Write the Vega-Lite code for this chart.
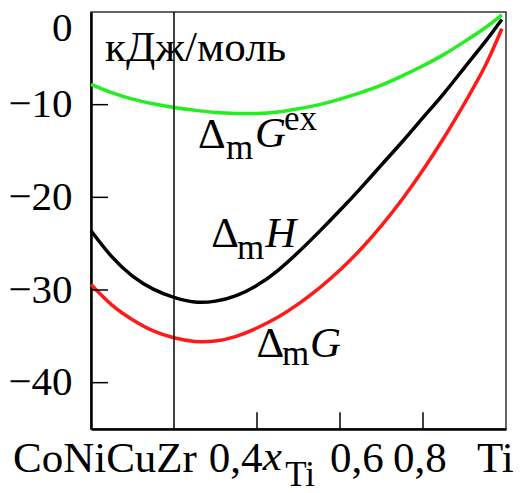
{
  "$schema": "https://vega.github.io/schema/vega-lite/v6.json",
  "width": 415,
  "height": 417,
  "autosize": {"type": "none"},
  "padding": {"left": 91, "top": 12, "right": 16, "bottom": 64},
  "background": "white",
  "config": {
    "view": {"stroke": "#333333", "strokeWidth": 1.5},
    "font": "Liberation Serif"
  },
  "datasets": {
    "curves": [
      {"x": 0, "y": -7.8, "s": "Gex"}, {"x": 0.05, "y": -8.7, "s": "Gex"}, {"x": 0.1, "y": -9.4, "s": "Gex"}, {"x": 0.15, "y": -9.9, "s": "Gex"}, {"x": 0.2, "y": -10.3, "s": "Gex"}, {"x": 0.25, "y": -10.6, "s": "Gex"}, {"x": 0.3, "y": -10.85, "s": "Gex"}, {"x": 0.35, "y": -10.95, "s": "Gex"}, {"x": 0.4, "y": -10.95, "s": "Gex"}, {"x": 0.45, "y": -10.8, "s": "Gex"}, {"x": 0.5, "y": -10.45, "s": "Gex"}, {"x": 0.55, "y": -10.0, "s": "Gex"}, {"x": 0.6, "y": -9.4, "s": "Gex"}, {"x": 0.65, "y": -8.7, "s": "Gex"}, {"x": 0.7, "y": -7.9, "s": "Gex"}, {"x": 0.75, "y": -6.9, "s": "Gex"}, {"x": 0.8, "y": -5.8, "s": "Gex"}, {"x": 0.85, "y": -4.6, "s": "Gex"}, {"x": 0.9, "y": -3.2, "s": "Gex"}, {"x": 0.95, "y": -1.7, "s": "Gex"}, {"x": 0.99, "y": -0.3, "s": "Gex"},
      {"x": 0, "y": -23.6, "s": "H"}, {"x": 0.05, "y": -26.4, "s": "H"}, {"x": 0.1, "y": -28.5, "s": "H"}, {"x": 0.15, "y": -29.9, "s": "H"}, {"x": 0.2, "y": -30.8, "s": "H"}, {"x": 0.25, "y": -31.3, "s": "H"}, {"x": 0.3, "y": -31.2, "s": "H"}, {"x": 0.35, "y": -30.6, "s": "H"}, {"x": 0.4, "y": -29.5, "s": "H"}, {"x": 0.45, "y": -27.9, "s": "H"}, {"x": 0.5, "y": -25.9, "s": "H"}, {"x": 0.55, "y": -23.7, "s": "H"}, {"x": 0.6, "y": -21.4, "s": "H"}, {"x": 0.65, "y": -19.0, "s": "H"}, {"x": 0.7, "y": -16.5, "s": "H"}, {"x": 0.75, "y": -14.0, "s": "H"}, {"x": 0.8, "y": -11.4, "s": "H"}, {"x": 0.85, "y": -8.8, "s": "H"}, {"x": 0.9, "y": -6.0, "s": "H"}, {"x": 0.95, "y": -3.2, "s": "H"}, {"x": 0.99, "y": -0.8, "s": "H"},
      {"x": 0, "y": -29.4, "s": "G"}, {"x": 0.05, "y": -31.6, "s": "G"}, {"x": 0.1, "y": -33.2, "s": "G"}, {"x": 0.15, "y": -34.4, "s": "G"}, {"x": 0.2, "y": -35.15, "s": "G"}, {"x": 0.25, "y": -35.55, "s": "G"}, {"x": 0.3, "y": -35.5, "s": "G"}, {"x": 0.35, "y": -35.0, "s": "G"}, {"x": 0.4, "y": -34.1, "s": "G"}, {"x": 0.45, "y": -32.95, "s": "G"}, {"x": 0.5, "y": -31.5, "s": "G"}, {"x": 0.55, "y": -29.8, "s": "G"}, {"x": 0.6, "y": -27.85, "s": "G"}, {"x": 0.65, "y": -25.6, "s": "G"}, {"x": 0.7, "y": -23.05, "s": "G"}, {"x": 0.75, "y": -20.2, "s": "G"}, {"x": 0.8, "y": -17.05, "s": "G"}, {"x": 0.85, "y": -13.6, "s": "G"}, {"x": 0.9, "y": -9.85, "s": "G"}, {"x": 0.95, "y": -5.8, "s": "G"}, {"x": 0.99, "y": -1.8, "s": "G"}
    ],
    "yticks": [
      {"x1": 0, "x2": 0.041, "y": -40}, {"x1": 0, "x2": 0.041, "y": -30}, {"x1": 0, "x2": 0.041, "y": -20}, {"x1": 0, "x2": 0.041, "y": -10}
    ],
    "xticks": [
      {"x": 0.4, "y1": -45, "y2": -43.2}, {"x": 0.6, "y1": -45, "y2": -43.2}, {"x": 0.8, "y1": -45, "y2": -43.2}
    ],
    "plain": [
      {"x": 0.034, "y": -5.3, "t": "кДж/моль"},
      {"x": 0.258, "y": -14.66, "t": "Δ"},
      {"x": 0.29, "y": -25.4, "t": "Δ"},
      {"x": 0.399, "y": -37.2, "t": "Δ"},
      {"x": -0.188, "y": -49.6, "t": "CoNiCuZr"},
      {"x": 0.284, "y": -49.6, "t": "0,4"},
      {"x": 0.576, "y": -49.6, "t": "0,6"},
      {"x": 0.728, "y": -49.6, "t": "0,8"},
      {"x": 0.93, "y": -49.6, "t": "Ti"}
    ],
    "italic": [
      {"x": 0.395, "y": -14.6, "t": "G"},
      {"x": 0.42, "y": -25.4, "t": "H"},
      {"x": 0.528, "y": -37.2, "t": "G"},
      {"x": 0.414, "y": -49.4, "t": "x"}
    ],
    "small": [
      {"x": 0.325, "y": -15.9, "t": "m"},
      {"x": 0.352, "y": -26.7, "t": "m"},
      {"x": 0.46, "y": -38.1, "t": "m"},
      {"x": 0.465, "y": -12.7, "t": "ex"},
      {"x": 0.468, "y": -51.2, "t": "Ti"}
    ],
    "vline": [{"x": 0.2}]
  },
  "layer": [
    {
      "data": {"name": "curves"},
      "mark": {"type": "line", "strokeWidth": 3.5, "interpolate": "natural", "clip": false},
      "encoding": {
        "x": {
          "field": "x", "type": "quantitative",
          "scale": {"domain": [0, 1], "nice": false, "zero": false},
          "axis": {
            "labels": false, "ticks": false, "title": null, "grid": false,
            "domainColor": "black", "domainWidth": 2.5
          }
        },
        "y": {
          "field": "y", "type": "quantitative",
          "scale": {"domain": [-45, 0], "nice": false, "zero": false},
          "axis": {
            "values": [-40, -30, -20, -10, 0], "format": "d", "title": null, "grid": false,
            "ticks": false, "domainColor": "black", "domainWidth": 2.5,
            "labelFont": "Liberation Serif", "labelFontSize": 41, "labelColor": "black",
            "labelPadding": 19, "labelFlush": true, "labelFlushOffset": 4, "labelBound": false
          }
        },
        "color": {
          "field": "s", "type": "nominal", "legend": null,
          "scale": {"domain": ["Gex", "H", "G"], "range": ["#22ee22", "#000000", "#ff1a1a"]}
        }
      }
    },
    {
      "data": {"name": "vline"},
      "mark": {"type": "rule", "color": "black", "strokeWidth": 1.5},
      "encoding": {"x": {"field": "x", "type": "quantitative"}}
    },
    {
      "data": {"name": "yticks"},
      "mark": {"type": "rule", "color": "black", "strokeWidth": 1.5},
      "encoding": {
        "x": {"field": "x1", "type": "quantitative"},
        "x2": {"field": "x2"},
        "y": {"field": "y", "type": "quantitative"}
      }
    },
    {
      "data": {"name": "xticks"},
      "mark": {"type": "rule", "color": "black", "strokeWidth": 1.5},
      "encoding": {
        "x": {"field": "x", "type": "quantitative"},
        "y": {"field": "y1", "type": "quantitative"},
        "y2": {"field": "y2"}
      }
    },
    {
      "data": {"name": "plain"},
      "mark": {"type": "text", "align": "left", "baseline": "alphabetic", "font": "Liberation Serif", "fontSize": 43, "color": "black", "clip": false},
      "encoding": {
        "x": {"field": "x", "type": "quantitative"},
        "y": {"field": "y", "type": "quantitative"},
        "text": {"field": "t"}
      }
    },
    {
      "data": {"name": "italic"},
      "mark": {"type": "text", "align": "left", "baseline": "alphabetic", "font": "Liberation Serif", "fontStyle": "italic", "fontSize": 43, "color": "black", "clip": false},
      "encoding": {
        "x": {"field": "x", "type": "quantitative"},
        "y": {"field": "y", "type": "quantitative"},
        "text": {"field": "t"}
      }
    },
    {
      "data": {"name": "small"},
      "mark": {"type": "text", "align": "left", "baseline": "alphabetic", "font": "Liberation Serif", "fontSize": 35, "color": "black", "clip": false},
      "encoding": {
        "x": {"field": "x", "type": "quantitative"},
        "y": {"field": "y", "type": "quantitative"},
        "text": {"field": "t"}
      }
    }
  ]
}
